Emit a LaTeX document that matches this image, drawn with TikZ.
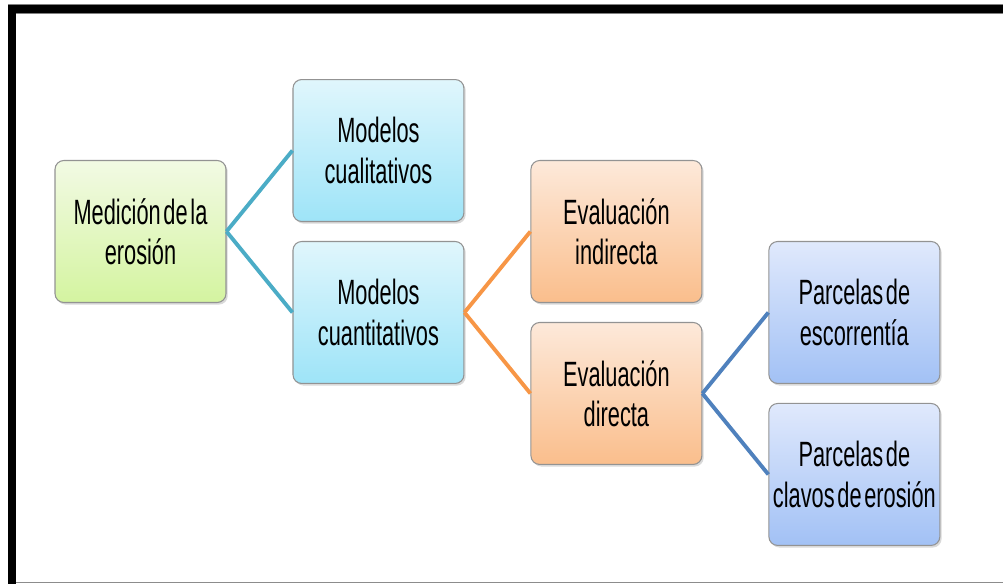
\documentclass[tikz,border=0pt]{standalone}
\usepackage{fontspec}
\setmainfont[FakeStretch=0.62,WordSpace=0.45]{Liberation Sans}
\usepackage{tikz}
\usetikzlibrary{positioning}
\usetikzlibrary{shadows}

\definecolor{greentop}{RGB}{242,250,228}
\definecolor{greenbot}{RGB}{212,244,160}
\definecolor{cyantop}{RGB}{224,246,252}
\definecolor{cyanbot}{RGB}{158,228,248}
\definecolor{orangetop}{RGB}{253,233,218}
\definecolor{orangebot}{RGB}{250,190,140}
\definecolor{bluetop}{RGB}{224,233,252}
\definecolor{bluebot}{RGB}{162,193,245}
\definecolor{tealline}{RGB}{75,172,198}
\definecolor{orangeline}{RGB}{247,150,70}
\definecolor{blueline}{RGB}{79,129,189}

\begin{document}
\begin{tikzpicture}[x=0.02cm,y=0.02cm,thick,on grid,node distance=1.62cm and 4.76cm,
  main node/.style={rectangle,rounded corners=5pt,draw=gray!85,line width=0.6pt,
    minimum width=3.42cm,minimum height=2.84cm,inner sep=0pt,align=center,
    font=\fontsize{20}{23}\selectfont,
    drop shadow={shadow xshift=1pt,shadow yshift=-1.2pt,opacity=0.3}},
  green node/.style={main node,top color=greentop,bottom color=greenbot},
  cyan node/.style={main node,top color=cyantop,bottom color=cyanbot},
  orange node/.style={main node,top color=orangetop,bottom color=orangebot},
  blue node/.style={main node,top color=bluetop,bottom color=bluebot},
  link/.style={line width=2.2pt}]

  \useasboundingbox (0,0) rectangle (1003,-584);

  % frame
  \fill[gray] (8,-4) rectangle (1003,-14);
  \fill[black] (8,-5) rectangle (1003,-13);
  \fill[black] (8,-5) rectangle (16,-584);
  \draw[gray!90,line width=1pt] (16,-582.5) -- (1003,-582.5);

  \node[green node] (med) at (140.5,-231.5) {Medición de la\\erosión};
  \node[cyan node] (cual) [above right=of med] {Modelos\\cualitativos};
  \node[cyan node] (cuan) [below right=of med] {Modelos\\cuantitativos};
  \node[orange node] (ind) [above right=of cuan] {Evaluación\\indirecta};
  \node[orange node] (dir) [below right=of cuan] {Evaluación\\directa};
  \node[blue node] (esc) [above right=of dir] {Parcelas de\\escorrentía};
  \node[blue node] (clav) [below right=of dir] {Parcelas de\\clavos de erosión};

  \path (med.east) edge[link,draw=tealline] (cual.west)
                   edge[link,draw=tealline] (cuan.west);
  \path (cuan.east) edge[link,draw=orangeline] (ind.west)
                    edge[link,draw=orangeline] (dir.west);
  \path (dir.east) edge[link,draw=blueline] (esc.west)
                   edge[link,draw=blueline] (clav.west);
\end{tikzpicture}
\end{document}
